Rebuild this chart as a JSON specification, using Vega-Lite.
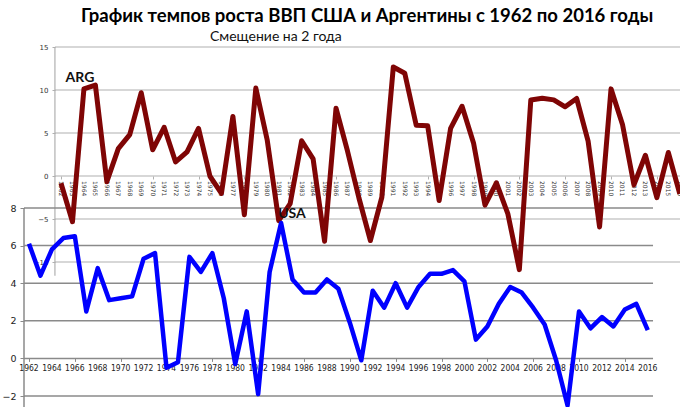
{
  "$schema": "https://vega.github.io/schema/vega-lite/v6.json",
  "width": 656,
  "height": 360,
  "autosize": {"type": "none"},
  "padding": {"left": 24, "top": 47, "right": 0, "bottom": 0},
  "background": "white",
  "config": {"view": {"stroke": null}, "font": "DejaVu Sans", "axis": {"labelOverlap": false, "labelFlush": false, "labelBound": false}},
  "title": {
    "text": "График темпов роста ВВП США и Аргентины с 1962 по 2016 годы",
    "font": "Lato",
    "fontSize": 18.5,
    "fontWeight": "bold",
    "color": "black",
    "anchor": "middle",
    "frame": "group",
    "dx": 15,
    "offset": 5
  },
  "datasets": {
    "arg": [
      {"year": 1962, "gdp": -0.85}, {"year": 1963, "gdp": -5.31}, {"year": 1964, "gdp": 10.13},
      {"year": 1965, "gdp": 10.57}, {"year": 1966, "gdp": -0.66}, {"year": 1967, "gdp": 3.19},
      {"year": 1968, "gdp": 4.82}, {"year": 1969, "gdp": 9.68}, {"year": 1970, "gdp": 3.05},
      {"year": 1971, "gdp": 5.66}, {"year": 1972, "gdp": 1.63}, {"year": 1973, "gdp": 2.81},
      {"year": 1974, "gdp": 5.53}, {"year": 1975, "gdp": -0.03}, {"year": 1976, "gdp": -2.02},
      {"year": 1977, "gdp": 6.93}, {"year": 1978, "gdp": -4.51}, {"year": 1979, "gdp": 10.22},
      {"year": 1980, "gdp": 4.15}, {"year": 1981, "gdp": -5.19}, {"year": 1982, "gdp": -3.2},
      {"year": 1983, "gdp": 4.1}, {"year": 1984, "gdp": 2.0}, {"year": 1985, "gdp": -7.59},
      {"year": 1986, "gdp": 7.88}, {"year": 1987, "gdp": 2.91}, {"year": 1988, "gdp": -2.56},
      {"year": 1989, "gdp": -7.5}, {"year": 1990, "gdp": -2.47}, {"year": 1991, "gdp": 12.67},
      {"year": 1992, "gdp": 11.94}, {"year": 1993, "gdp": 5.91}, {"year": 1994, "gdp": 5.84},
      {"year": 1995, "gdp": -2.85}, {"year": 1996, "gdp": 5.53}, {"year": 1997, "gdp": 8.11},
      {"year": 1998, "gdp": 3.85}, {"year": 1999, "gdp": -3.39}, {"year": 2000, "gdp": -0.79},
      {"year": 2001, "gdp": -4.41}, {"year": 2002, "gdp": -10.89}, {"year": 2003, "gdp": 8.84},
      {"year": 2004, "gdp": 9.03}, {"year": 2005, "gdp": 8.85}, {"year": 2006, "gdp": 8.05},
      {"year": 2007, "gdp": 9.01}, {"year": 2008, "gdp": 4.06}, {"year": 2009, "gdp": -5.92},
      {"year": 2010, "gdp": 10.13}, {"year": 2011, "gdp": 6.0}, {"year": 2012, "gdp": -1.03},
      {"year": 2013, "gdp": 2.41}, {"year": 2014, "gdp": -2.51}, {"year": 2015, "gdp": 2.73},
      {"year": 2016, "gdp": -2.08}
    ],
    "usa": [
      {"year": 1962, "gdp": 6.1}, {"year": 1963, "gdp": 4.4}, {"year": 1964, "gdp": 5.8},
      {"year": 1965, "gdp": 6.4}, {"year": 1966, "gdp": 6.5}, {"year": 1967, "gdp": 2.5},
      {"year": 1968, "gdp": 4.8}, {"year": 1969, "gdp": 3.1}, {"year": 1970, "gdp": 3.2},
      {"year": 1971, "gdp": 3.3}, {"year": 1972, "gdp": 5.3}, {"year": 1973, "gdp": 5.6},
      {"year": 1974, "gdp": -0.5}, {"year": 1975, "gdp": -0.2}, {"year": 1976, "gdp": 5.4},
      {"year": 1977, "gdp": 4.6}, {"year": 1978, "gdp": 5.6}, {"year": 1979, "gdp": 3.2},
      {"year": 1980, "gdp": -0.3}, {"year": 1981, "gdp": 2.5}, {"year": 1982, "gdp": -1.9},
      {"year": 1983, "gdp": 4.6}, {"year": 1984, "gdp": 7.2}, {"year": 1985, "gdp": 4.2},
      {"year": 1986, "gdp": 3.5}, {"year": 1987, "gdp": 3.5}, {"year": 1988, "gdp": 4.2},
      {"year": 1989, "gdp": 3.7}, {"year": 1990, "gdp": 1.9}, {"year": 1991, "gdp": -0.1},
      {"year": 1992, "gdp": 3.6}, {"year": 1993, "gdp": 2.7}, {"year": 1994, "gdp": 4.0},
      {"year": 1995, "gdp": 2.7}, {"year": 1996, "gdp": 3.8}, {"year": 1997, "gdp": 4.5},
      {"year": 1998, "gdp": 4.5}, {"year": 1999, "gdp": 4.7}, {"year": 2000, "gdp": 4.1},
      {"year": 2001, "gdp": 1.0}, {"year": 2002, "gdp": 1.7}, {"year": 2003, "gdp": 2.9},
      {"year": 2004, "gdp": 3.8}, {"year": 2005, "gdp": 3.5}, {"year": 2006, "gdp": 2.7},
      {"year": 2007, "gdp": 1.8}, {"year": 2008, "gdp": -0.1}, {"year": 2009, "gdp": -2.5},
      {"year": 2010, "gdp": 2.5}, {"year": 2011, "gdp": 1.6}, {"year": 2012, "gdp": 2.2},
      {"year": 2013, "gdp": 1.7}, {"year": 2014, "gdp": 2.6}, {"year": 2015, "gdp": 2.9},
      {"year": 2016, "gdp": 1.5}
    ],
    "argGrid": [{"v": -10}, {"v": -5}, {"v": 0}, {"v": 5}, {"v": 10}, {"v": 15}],
    "usaGrid": [{"v": -2}, {"v": 0}, {"v": 2}, {"v": 4}, {"v": 6}, {"v": 8}]
  },
  "layer": [
    {
      "layer": [
        {
          "data": {"name": "argGrid"},
          "mark": {"type": "rule", "color": "#b0b0b0", "strokeWidth": 1.2},
          "encoding": {
            "y": {
              "field": "v", "type": "quantitative",
              "scale": {"domain": [-26.86, 15], "nice": false, "zero": false},
              "axis": {
                "orient": "left", "offset": -31, "title": null, "grid": false, "domain": false,
                "values": [-10, -5, 0, 5, 10, 15], "labelFontSize": 7, "labelPadding": 4,
                "labelColor": "#333333", "tickSize": 3, "tickColor": "#b0b0b0"
              }
            },
            "x": {
              "datum": 1961.47, "type": "quantitative",
              "scale": {"domain": [1958.77, 2016.02], "nice": false, "zero": false},
              "axis": {
                "orient": "bottom", "offset": -231, "title": null, "grid": false, "domain": false, "labels": false,
                "values": [1962,1963,1964,1965,1966,1967,1968,1969,1970,1971,1972,1973,1974,1975,1976,1977,1978,1979,1980,1981,1982,1983,1984,1985,1986,1987,1988,1989,1990,1991,1992,1993,1994,1995,1996,1997,1998,1999,2000,2001,2002,2003,2004,2005,2006,2007,2008,2009,2010,2011,2012,2013,2014,2015,2016],
                "tickSize": 3, "tickColor": "#b0b0b0"
              }
            },
            "x2": {"datum": 2016.02}
          }
        },
        {
          "data": {"values": [{}]},
          "mark": {"type": "rule", "color": "#b0b0b0", "strokeWidth": 1.2},
          "encoding": {
            "x": {"datum": 1961.47, "type": "quantitative"},
            "y": {"datum": -11.6, "type": "quantitative"},
            "y2": {"datum": 15}
          }
        },
        {
          "data": {"name": "arg"},
          "mark": {"type": "text", "angle": 90, "align": "left", "baseline": "middle", "dx": 5, "fontSize": 6, "color": "#333333"},
          "encoding": {
            "x": {"field": "year", "type": "quantitative"},
            "y": {"datum": 0, "type": "quantitative"},
            "text": {"field": "year", "type": "quantitative", "format": "d"}
          }
        }
      ]
    },
    {
      "layer": [
        {
          "data": {"name": "usaGrid"},
          "mark": {"type": "rule", "color": "#8a8a8a", "strokeWidth": 1.5},
          "encoding": {
            "y": {
              "field": "v", "type": "quantitative",
              "scale": {"domain": [-2.585, 16.564], "nice": false, "zero": false},
              "axis": {
                "orient": "left", "offset": 0, "title": null, "grid": false, "domain": false,
                "values": [-2, 0, 2, 4, 6, 8], "labelFontSize": 9.5, "labelPadding": 4,
                "labelColor": "#222222", "tickSize": 4, "tickColor": "#8a8a8a"
              }
            },
            "x": {
              "datum": 1961.564, "type": "quantitative",
              "scale": {"domain": [1961.564, 2018.814], "nice": false, "zero": false},
              "axis": {
                "orient": "bottom", "offset": -48.6, "title": null, "grid": false, "domain": false, "labels": false,
                "values": [1962,1963,1964,1965,1966,1967,1968,1969,1970,1971,1972,1973,1974,1975,1976,1977,1978,1979,1980,1981,1982,1983,1984,1985,1986,1987,1988,1989,1990,1991,1992,1993,1994,1995,1996,1997,1998,1999,2000,2001,2002,2003,2004,2005,2006,2007,2008,2009,2010,2011,2012,2013,2014,2015,2016],
                "tickSize": 3, "tickColor": "#8a8a8a"
              }
            },
            "x2": {"datum": 2016.46}
          }
        },
        {
          "data": {"values": [{}]},
          "mark": {"type": "rule", "color": "#8a8a8a", "strokeWidth": 1.5},
          "encoding": {
            "x": {"datum": 1961.564, "type": "quantitative"},
            "y": {"datum": -2.585, "type": "quantitative"},
            "y2": {"datum": 8}
          }
        },
        {
          "data": {"name": "usa"},
          "transform": [{"filter": "datum.year % 2 == 0"}],
          "mark": {"type": "text", "align": "center", "baseline": "top", "dy": 6, "fontSize": 8.5, "font": "DejaVu Sans Condensed, DejaVu Sans", "color": "#222222"},
          "encoding": {
            "x": {"field": "year", "type": "quantitative"},
            "y": {"datum": 0, "type": "quantitative"},
            "text": {"field": "year", "type": "quantitative", "format": "d"}
          }
        }
      ]
    },
    {
      "layer": [
        {
          "data": {"name": "arg"},
          "mark": {"type": "line", "color": "#7f0505", "strokeWidth": 5, "strokeJoin": "round", "strokeCap": "butt"},
          "encoding": {
            "x": {"field": "year", "type": "quantitative", "axis": null, "scale": {"domain": [1958.77, 2016.02], "nice": false, "zero": false}},
            "y": {"field": "gdp", "type": "quantitative", "axis": null, "scale": {"domain": [-26.86, 15], "nice": false, "zero": false}}
          }
        },
        {
          "data": {"values": [{"t": "ARG"}]},
          "mark": {"type": "text", "font": "Lato", "fontWeight": "bold", "fontSize": 14, "color": "#111111"},
          "encoding": {
            "x": {"datum": 1963.65, "type": "quantitative", "axis": null},
            "y": {"datum": 11.4, "type": "quantitative", "axis": null},
            "text": {"field": "t"}
          }
        },
        {
          "data": {"values": [{"t": "Смещение на 2 года"}]},
          "mark": {"type": "text", "font": "Lato", "fontSize": 14, "color": "#111111"},
          "encoding": {
            "x": {"datum": 1980.75, "type": "quantitative", "axis": null},
            "y": {"datum": 16.16, "type": "quantitative", "axis": null},
            "text": {"field": "t"}
          }
        }
      ]
    },
    {
      "layer": [
        {
          "data": {"name": "usa"},
          "mark": {"type": "line", "color": "#0000ff", "strokeWidth": 4.5, "strokeJoin": "round", "strokeCap": "butt"},
          "encoding": {
            "x": {"field": "year", "type": "quantitative", "axis": null, "scale": {"domain": [1961.564, 2018.814], "nice": false, "zero": false}},
            "y": {"field": "gdp", "type": "quantitative", "axis": null, "scale": {"domain": [-2.585, 16.564], "nice": false, "zero": false}}
          }
        },
        {
          "data": {"values": [{"t": "USA"}]},
          "mark": {"type": "text", "font": "Lato", "fontWeight": "bold", "fontSize": 14, "color": "#111111"},
          "encoding": {
            "x": {"datum": 1984.95, "type": "quantitative", "axis": null},
            "y": {"datum": 7.68, "type": "quantitative", "axis": null},
            "text": {"field": "t"}
          }
        }
      ]
    }
  ],
  "resolve": {
    "scale": {"x": "independent", "y": "independent"},
    "axis": {"x": "independent", "y": "independent"}
  }
}
